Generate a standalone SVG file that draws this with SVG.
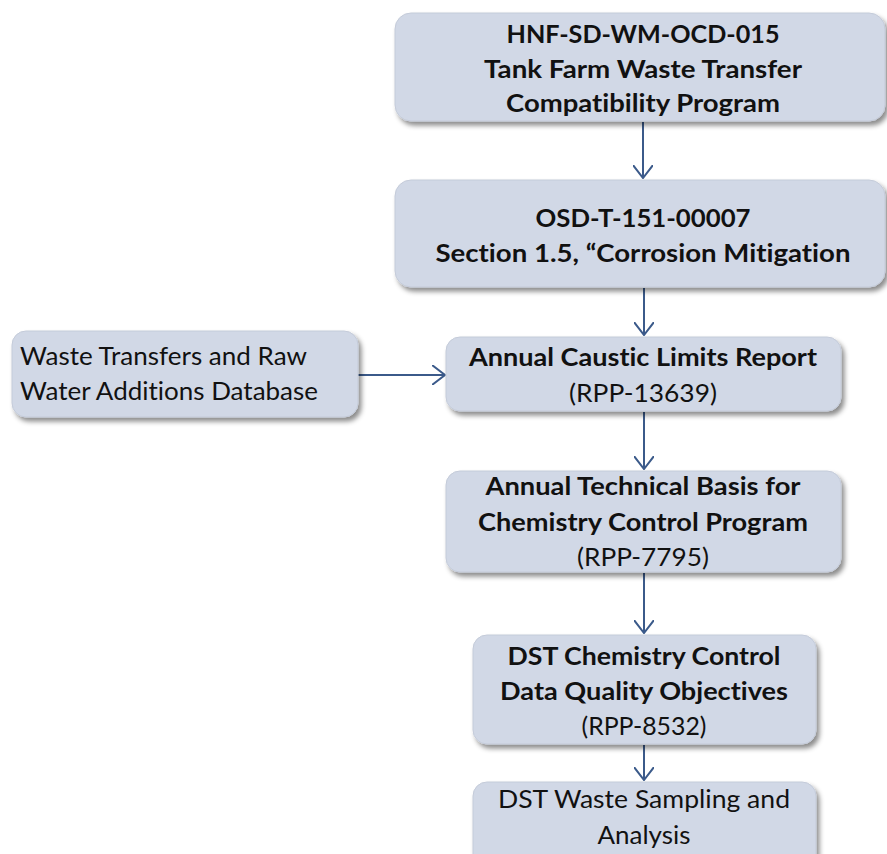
<svg xmlns="http://www.w3.org/2000/svg" width="887" height="854" viewBox="0 0 887 854">
<defs>
<filter id="sh" x="-10%" y="-20%" width="125%" height="150%">
<feDropShadow dx="3" dy="4" stdDeviation="2.5" flood-color="#000" flood-opacity="0.45"/>
</filter>
<marker id="ah" viewBox="0 0 14 20" refX="13" refY="10" markerWidth="14" markerHeight="20" markerUnits="userSpaceOnUse" orient="auto">
<path d="M0,0 L13,10 L0,20" fill="none" stroke="#3b5a8a" stroke-width="2"/>
</marker>
</defs>
<style>
.box{fill:#d1d8e6;stroke:#c4cbd9;stroke-width:1;filter:url(#sh)}
.t{font-family:Lato,"Liberation Sans",sans-serif;font-size:25px;fill:#111;text-anchor:middle;font-variant-ligatures:none}
.b{font-weight:bold}
.l{text-anchor:start}
.c{stroke:#3b5a8a;stroke-width:2;fill:none}
</style>
<rect width="887" height="854" fill="#fff"/>
<g id="connectors">
<line class="c" x1="643" y1="122" x2="643" y2="178" marker-end="url(#ah)"/>
<line class="c" x1="644" y1="288" x2="644" y2="335" marker-end="url(#ah)"/>
<line class="c" x1="358" y1="375" x2="445" y2="375" marker-end="url(#ah)"/>
<line class="c" x1="644" y1="412" x2="644" y2="469" marker-end="url(#ah)"/>
<line class="c" x1="644" y1="573" x2="644" y2="633" marker-end="url(#ah)"/>
<line class="c" x1="644" y1="745" x2="644" y2="780" marker-end="url(#ah)"/>
</g>
<g id="n1">
<rect class="box" x="395" y="13" width="490" height="108" rx="16"/>
<text class="t b" x="643" y="43" textLength="273" lengthAdjust="spacingAndGlyphs">HNF-SD-WM-OCD-015</text>
<text class="t b" x="643" y="78" textLength="318" lengthAdjust="spacingAndGlyphs">Tank Farm Waste Transfer</text>
<text class="t b" x="643" y="112" textLength="274" lengthAdjust="spacingAndGlyphs">Compatibility Program</text>
</g>
<g id="n2">
<rect class="box" x="395" y="180" width="490" height="107" rx="16"/>
<text class="t b" x="643" y="227" textLength="215" lengthAdjust="spacingAndGlyphs">OSD-T-151-00007</text>
<text class="t b" x="643" y="262" textLength="415" lengthAdjust="spacingAndGlyphs">Section 1.5, “Corrosion Mitigation</text>
</g>
<g id="n3">
<rect class="box" x="12" y="331" width="346" height="86" rx="14"/>
<text class="t l" x="20" y="365" textLength="287" lengthAdjust="spacingAndGlyphs">Waste Transfers and Raw</text>
<text class="t l" x="20" y="400" textLength="298" lengthAdjust="spacingAndGlyphs">Water Additions Database</text>
</g>
<g id="n4">
<rect class="box" x="446" y="337" width="395" height="74" rx="14"/>
<text class="t b" x="643" y="366" textLength="348" lengthAdjust="spacingAndGlyphs">Annual Caustic Limits Report</text>
<text class="t" x="643" y="402" textLength="148" lengthAdjust="spacingAndGlyphs">(RPP-13639)</text>
</g>
<g id="n5">
<rect class="box" x="446" y="471" width="395" height="101" rx="14"/>
<text class="t b" x="643" y="495" textLength="315" lengthAdjust="spacingAndGlyphs">Annual Technical Basis for</text>
<text class="t b" x="643" y="531" textLength="330" lengthAdjust="spacingAndGlyphs">Chemistry Control Program</text>
<text class="t" x="643" y="566" textLength="132" lengthAdjust="spacingAndGlyphs">(RPP-7795)</text>
</g>
<g id="n6">
<rect class="box" x="473" y="635" width="343" height="109" rx="14"/>
<text class="t b" x="644" y="665" textLength="273" lengthAdjust="spacingAndGlyphs">DST Chemistry Control</text>
<text class="t b" x="644" y="700" textLength="288" lengthAdjust="spacingAndGlyphs">Data Quality Objectives</text>
<text class="t" x="644" y="735" textLength="125" lengthAdjust="spacingAndGlyphs">(RPP-8532)</text>
</g>
<g id="n7">
<rect class="box" x="473" y="782" width="343" height="90" rx="14"/>
<text class="t" x="644" y="808" textLength="292" lengthAdjust="spacingAndGlyphs">DST Waste Sampling and</text>
<text class="t" x="644" y="844" textLength="93" lengthAdjust="spacingAndGlyphs">Analysis</text>
</g>
</svg>
